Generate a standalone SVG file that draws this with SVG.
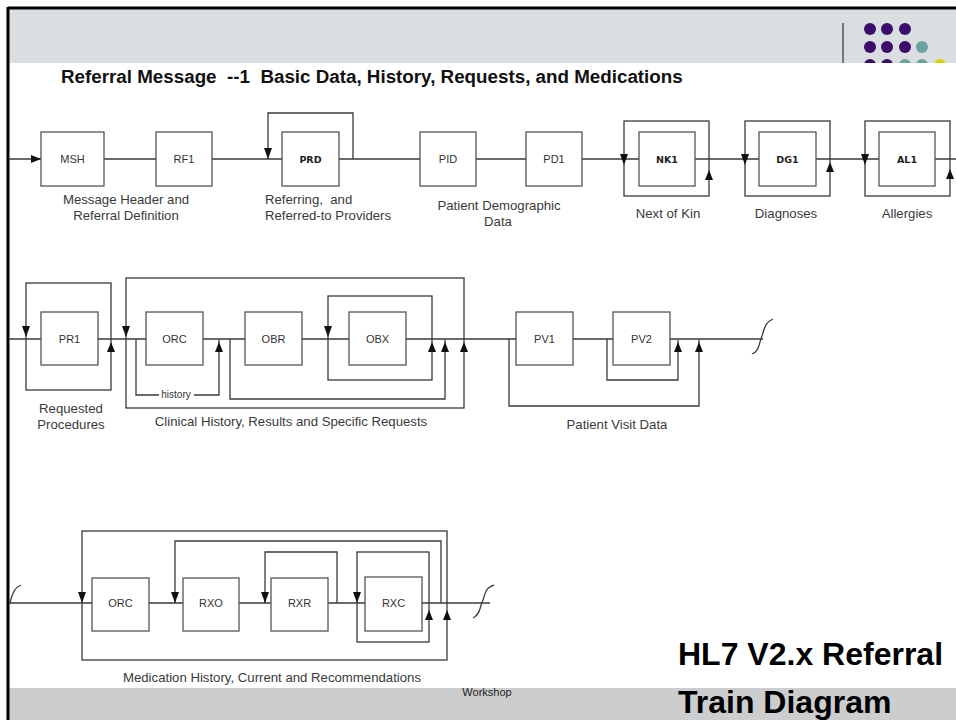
<svg xmlns="http://www.w3.org/2000/svg" width="956" height="720" viewBox="0 0 956 720">
<style>
.ln{fill:none;stroke:#3a3a3a;stroke-width:1.3}
.bx{fill:#fff;stroke:#555;stroke-width:1.3}
.ah{fill:#111}
.nl{font-family:"Liberation Sans",Arial,sans-serif;font-size:11px;fill:#333;text-anchor:middle}
.nb{font-family:"DejaVu Sans",Verdana,sans-serif;font-size:9.5px;font-weight:bold;fill:#222;text-anchor:middle}
.lb{font-family:"Liberation Sans",Arial,sans-serif;font-size:13.2px;fill:#3a3a3a;white-space:pre}
.c{text-anchor:middle}
</style>
<defs>
<path id="dn" d="M-4,-11 L4,-11 L0,0 Z"/>
<path id="up" d="M-4,10 L4,10 L0,0 Z"/>
</defs>
<rect x="0" y="0" width="956" height="720" fill="#fff"/>
<rect x="8" y="8" width="948" height="56" fill="#dadee1"/>
<line x1="843" y1="23" x2="843" y2="63" stroke="#555" stroke-width="1.5"/>
<g id="dots">
<circle cx="870" cy="29" r="6" fill="#3d0b6b"/><circle cx="887" cy="29" r="6" fill="#3d0b6b"/><circle cx="905" cy="29" r="6" fill="#3d0b6b"/>
<circle cx="870" cy="47" r="6" fill="#3d0b6b"/><circle cx="887" cy="47" r="6" fill="#3d0b6b"/><circle cx="905" cy="47" r="6" fill="#3d0b6b"/><circle cx="922" cy="47" r="6" fill="#69a3a1"/>
<circle cx="870" cy="65" r="6" fill="#3d0b6b"/><circle cx="887" cy="65" r="6" fill="#3d0b6b"/><circle cx="905" cy="65" r="6" fill="#69a3a1"/><circle cx="922" cy="65" r="6" fill="#69a3a1"/><circle cx="940" cy="65" r="6" fill="#d6d200"/>
</g>
<rect x="8" y="63" width="948" height="625" fill="#fff"/>
<rect x="8" y="688" width="948" height="32" fill="#cbcdcf"/>
<line x1="8" y1="8" x2="956" y2="8" stroke="#000" stroke-width="3"/>
<line x1="8" y1="7" x2="8" y2="720" stroke="#000" stroke-width="3"/>

<text x="61" y="83" style="font-family:'Liberation Sans',Arial,sans-serif;font-size:18.8px;font-weight:bold;fill:#111;white-space:pre">Referral Message  --1  Basic Data, History, Requests, and Medications</text>

<g id="connectors">
<!-- row 1 -->
<line class="ln" x1="9" y1="159" x2="956" y2="159"/>
<path class="ln" d="M353,159 V113 H268 V159"/>
<rect class="ln" x="624" y="121" width="85" height="75"/>
<rect class="ln" x="745" y="121" width="85" height="75"/>
<rect class="ln" x="865" y="121" width="85" height="75"/>
<path class="ah" d="M31,155 L41,159 L31,163 Z"/>
<use href="#dn" class="ah" x="268" y="159"/>
<use href="#dn" class="ah" x="624" y="165"/>
<use href="#up" class="ah" x="709" y="170"/>
<use href="#dn" class="ah" x="745" y="165"/>
<use href="#up" class="ah" x="830" y="162"/>
<use href="#dn" class="ah" x="865" y="165"/>
<use href="#up" class="ah" x="950" y="169"/>
<!-- row 2 -->
<line class="ln" x1="9" y1="339" x2="763" y2="339"/>
<rect class="ln" x="26" y="283" width="85" height="107"/>
<rect class="ln" x="126" y="278" width="338" height="130"/>
<path class="ln" d="M136,339 V395 H219 V340"/>
<path class="ln" d="M230,339 V399 H445 V340"/>
<rect class="ln" x="328" y="296" width="104" height="84"/>
<path class="ln" d="M509,339 V406 H699 V340"/>
<path class="ln" d="M607,339 V380 H678 V340"/>
<path class="ln" d="M752,354 C760,351 759,342 762,336 C765,326 766,322 773,319"/>
<use href="#dn" class="ah" x="26" y="337"/>
<use href="#up" class="ah" x="111" y="342"/>
<use href="#dn" class="ah" x="126" y="337"/>
<use href="#up" class="ah" x="219" y="342"/>
<use href="#dn" class="ah" x="328" y="337"/>
<use href="#up" class="ah" x="432" y="342"/>
<use href="#up" class="ah" x="445" y="342"/>
<use href="#up" class="ah" x="464" y="342"/>
<use href="#up" class="ah" x="678" y="342"/>
<use href="#up" class="ah" x="699" y="342"/>
<rect x="159" y="390" width="35" height="10" fill="#fff"/>
<text x="176" y="398" style="font-family:'Liberation Sans',Arial,sans-serif;font-size:10px;fill:#333;text-anchor:middle">history</text>
<!-- row 3 -->
<line class="ln" x1="9" y1="603" x2="490" y2="603"/>
<path class="ln" d="M10,603 C12,593 15,587 21,585"/>
<rect class="ln" x="82" y="531" width="365" height="129"/>
<path class="ln" d="M441,603 V541 H175 V603"/>
<path class="ln" d="M337,603 V552 H265 V603"/>
<rect class="ln" x="357" y="552" width="72" height="90"/>
<path class="ln" d="M473,618 C481,614 480,605 483,600 C486,590 487,587 494,585"/>
<use href="#dn" class="ah" x="82" y="603"/>
<use href="#dn" class="ah" x="175" y="603"/>
<use href="#dn" class="ah" x="265" y="603"/>
<use href="#dn" class="ah" x="357" y="603"/>
<use href="#up" class="ah" x="429" y="610"/>
<use href="#up" class="ah" x="447" y="610"/>
</g>

<g id="MSH"><rect class="bx" x="41" y="132" width="63" height="54"/><text class="nl" x="72.5" y="163">MSH</text></g>
<g id="RF1"><rect class="bx" x="156" y="132" width="56" height="54"/><text class="nl" x="184" y="163">RF1</text></g>
<g id="PRD"><rect class="bx" x="282" y="132" width="57" height="54"/><text class="nb" x="310.5" y="163">PRD</text></g>
<g id="PID"><rect class="bx" x="420" y="132" width="56" height="54"/><text class="nl" x="448" y="163">PID</text></g>
<g id="PD1"><rect class="bx" x="526" y="132" width="56" height="54"/><text class="nl" x="554" y="163">PD1</text></g>
<g id="NK1"><rect class="bx" x="639" y="132" width="56" height="54"/><text class="nb" x="667" y="163">NK1</text></g>
<g id="DG1"><rect class="bx" x="759" y="132" width="57" height="54"/><text class="nb" x="787.5" y="163">DG1</text></g>
<g id="AL1"><rect class="bx" x="879" y="132" width="56" height="54"/><text class="nb" x="907" y="163">AL1</text></g>

<g id="PR1"><rect class="bx" x="41" y="312" width="57" height="53"/><text class="nl" x="69.5" y="343">PR1</text></g>
<g id="ORC1"><rect class="bx" x="146" y="312" width="57" height="53"/><text class="nl" x="174.5" y="343">ORC</text></g>
<g id="OBR"><rect class="bx" x="245" y="312" width="57" height="53"/><text class="nl" x="273.5" y="343">OBR</text></g>
<g id="OBX"><rect class="bx" x="349" y="312" width="57" height="53"/><text class="nl" x="377.5" y="343">OBX</text></g>
<g id="PV1"><rect class="bx" x="516" y="312" width="57" height="53"/><text class="nl" x="544.5" y="343">PV1</text></g>
<g id="PV2"><rect class="bx" x="613" y="312" width="57" height="53"/><text class="nl" x="641.5" y="343">PV2</text></g>

<g id="ORC2"><rect class="bx" x="92" y="578" width="57" height="53"/><text class="nl" x="120.5" y="607">ORC</text></g>
<g id="RXO"><rect class="bx" x="183" y="578" width="56" height="53"/><text class="nl" x="211" y="607">RXO</text></g>
<g id="RXR"><rect class="bx" x="271" y="578" width="57" height="53"/><text class="nl" x="299.5" y="607">RXR</text></g>
<g id="RXC"><rect class="bx" x="365" y="577" width="57" height="54"/><text class="nl" x="393.5" y="607">RXC</text></g>

<g id="labels">
<text class="lb c" x="126" y="204">Message Header and</text>
<text class="lb c" x="126" y="220">Referral Definition</text>
<text class="lb" x="265" y="204">Referring,  and</text>
<text class="lb" x="265" y="220">Referred-to Providers</text>
<text class="lb c" x="499" y="210">Patient Demographic</text>
<text class="lb c" x="498" y="226">Data</text>
<text class="lb c" x="668" y="218">Next of Kin</text>
<text class="lb c" x="786" y="218">Diagnoses</text>
<text class="lb c" x="907" y="218">Allergies</text>
<text class="lb c" x="71" y="413">Requested</text>
<text class="lb c" x="71" y="429">Procedures</text>
<text class="lb c" x="291" y="426">Clinical History, Results and Specific Requests</text>
<text class="lb c" x="617" y="429">Patient Visit Data</text>
<text class="lb c" x="272" y="682">Medication History, Current and Recommendations</text>
</g>

<text x="487" y="696" style="font-family:'Liberation Sans',Arial,sans-serif;font-size:11px;fill:#222;text-anchor:middle">Workshop</text>
<text x="678" y="665" style="font-family:'Liberation Sans',Arial,sans-serif;font-size:32px;font-weight:bold;fill:#000">HL7 V2.x Referral</text>
<text x="678" y="713" style="font-family:'Liberation Sans',Arial,sans-serif;font-size:32px;font-weight:bold;fill:#000">Train Diagram</text>
</svg>
